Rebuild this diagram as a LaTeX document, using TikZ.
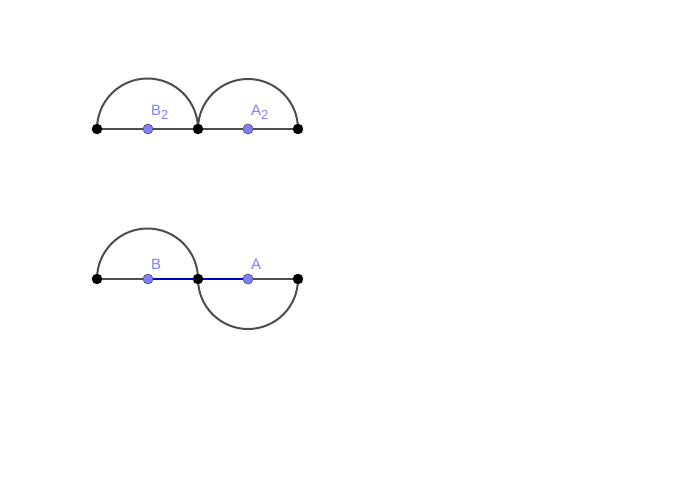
\documentclass[tikz,border=0pt]{standalone}
\usepackage{fontspec}
\setmainfont{Liberation Sans}
\usepackage{tikz}
\definecolor{segcol}{HTML}{4D4D4D}
\definecolor{ptblue}{HTML}{7F7FFF}
\definecolor{lblblue}{HTML}{7F7FFF}
\newcommand{\lowidx}[1]{\raisebox{-4pt}{\fontsize{13}{13}\selectfont #1}}
\tikzstyle{seg} = [draw=segcol, line width=2pt]
\tikzstyle{bluseg} = [draw=blue!80!black, line width=2pt]
\tikzstyle{endpt} = [circle, draw=black, fill=black, inner sep=0pt, minimum size=10pt]
\tikzstyle{midpt} = [circle, draw=black!70, fill=ptblue, line width=0.6pt, inner sep=0pt, minimum size=10pt]
\tikzstyle{lbl} = [text=lblblue, anchor=south west, inner sep=0pt, font=\fontsize{15}{15}\selectfont]

\begin{document}
\begin{tikzpicture}[x=1pt, y=-1pt]
\useasboundingbox (0,0) rectangle (700,500);

% upper row
\coordinate (u1) at (97,129);
\coordinate (u2) at (148,129);
\coordinate (u3) at (198,129);
\coordinate (u4) at (248,129);
\coordinate (u5) at (298,129);
\path [seg] (u1) -- (u5);
\path [seg] (u1) arc [start angle=180, end angle=360, radius=50.5];
\path [seg] (u3) arc [start angle=180, end angle=360, radius=50];

% lower row
\coordinate (l1) at (97,279);
\coordinate (l2) at (148,279);
\coordinate (l3) at (198,279);
\coordinate (l4) at (248,279);
\coordinate (l5) at (298,279);
\path [seg] (l1) -- (l2);
\path [seg] (l4) -- (l5);
\path [bluseg] (l2) -- (l4);
\path [seg] (l1) arc [start angle=180, end angle=360, radius=50.5];
\path [seg] (l3) arc [start angle=180, end angle=0, radius=50];

% points
\node [endpt] (U1) at (u1) {};
\node [midpt] (B2) at (u2) {};
\node [endpt] (U3) at (u3) {};
\node [midpt] (A2) at (u4) {};
\node [endpt] (U5) at (u5) {};
\node [endpt] (L1) at (l1) {};
\node [midpt] (B) at (l2) {};
\node [endpt] (L3) at (l3) {};
\node [midpt] (A) at (l4) {};
\node [endpt] (L5) at (l5) {};

% labels
\node [lbl] (labB2) at (151,120) {B\lowidx{2}};
\node [lbl] (labA2) at (251,120) {A\lowidx{2}};
\node [lbl] (labB) at (151,270) {B};
\node [lbl] (labA) at (251,270) {A};
\end{tikzpicture}
\end{document}
